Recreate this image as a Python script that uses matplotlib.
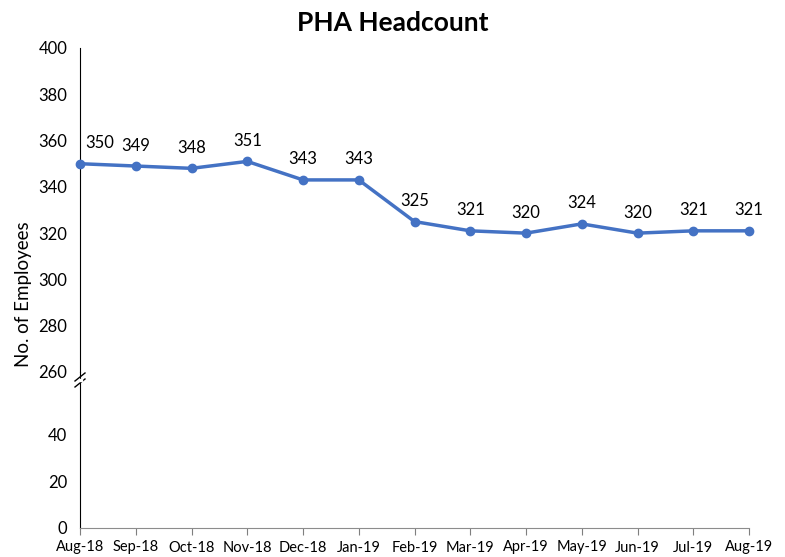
import matplotlib.pyplot as plt

plt.rcParams['font.family'] = ['Lato', 'DejaVu Sans']

months = ['Aug-18', 'Sep-18', 'Oct-18', 'Nov-18', 'Dec-18', 'Jan-19', 'Feb-19',
          'Mar-19', 'Apr-19', 'May-19', 'Jun-19', 'Jul-19', 'Aug-19']
headcount = [350, 349, 348, 351, 343, 343, 325, 321, 320, 324, 320, 321, 321]
upper_ticks = [260, 280, 300, 320, 340, 360, 380, 400]
lower_ticks = [0, 20, 40]

line_col = '#4472C4'
x = list(range(len(months)))

fig = plt.figure(figsize=(7.85, 5.57), dpi=100)
W, H = 785, 557
left, right = 80 / W, 749 / W
ax_top = fig.add_axes([left, 1 - 372 / H, right - left, (372 - 48) / H])
ax_bot = fig.add_axes([left, 1 - 528 / H, right - left, (528 - 372) / H], sharex=ax_top)

# upper panel holds the data
ax_top.plot(x, headcount, color=line_col, lw=2.5, marker='o', ms=6, clip_on=False, zorder=3)
for xi, v in zip(x, headcount):
    # first label nudged right so it clears the axis line
    dx = 14 if xi == 0 else 0
    ax_top.annotate(str(v), (xi, v), xytext=(dx, 9), textcoords='offset points',
                    ha='center', va='bottom', fontsize=12, color='#000000')
ax_top.set_ylim(260, 400)
ax_top.set_yticks(upper_ticks)
ax_top.set_xlim(0, 12)
ax_top.tick_params(axis='x', bottom=False, labelbottom=False)
ax_top.tick_params(axis='y', length=0, labelsize=12, pad=9)
for s in ['top', 'right', 'bottom']:
    ax_top.spines[s].set_visible(False)

# lower panel continues the axis down to zero
ax_bot.set_ylim(0, 67)
ax_bot.set_yticks(lower_ticks)
ax_bot.set_xticks(x)
ax_bot.set_xticklabels(months)
ax_bot.tick_params(axis='y', length=0, labelsize=12, pad=9)
ax_bot.tick_params(axis='x', length=5, direction='out', labelsize=10.5, color='#7f7f7f', pad=4)
for s in ['top', 'right']:
    ax_bot.spines[s].set_visible(False)
ax_bot.spines['bottom'].set_color('#8c8c8c')
for a in (ax_top, ax_bot):
    a.spines['left'].set_color('#000000')
    a.patch.set_alpha(0)

# axis break marks
for dy in (0, 6):
    fig.lines.append(plt.Line2D([left - 5 / W, left + 5 / W],
                                [1 - (381 + dy) / H, 1 - (373 + dy) / H],
                                transform=fig.transFigure, color='#000000', lw=1))
fig.patches.append(plt.Rectangle((left - 1.5 / W, 1 - 381 / H), 3 / W, 2 / H,
                                 transform=fig.transFigure, color='white', zorder=5))

fig.text(0.5, 1 - 23 / H, 'PHA Headcount', ha='center', va='center',
         fontsize=19, fontweight='bold')
fig.text(24 / W, 1 - 294 / H, 'No. of Employees', rotation=90, ha='center', va='center',
         fontsize=13.5)

fig.savefig('out.png', dpi=100)
